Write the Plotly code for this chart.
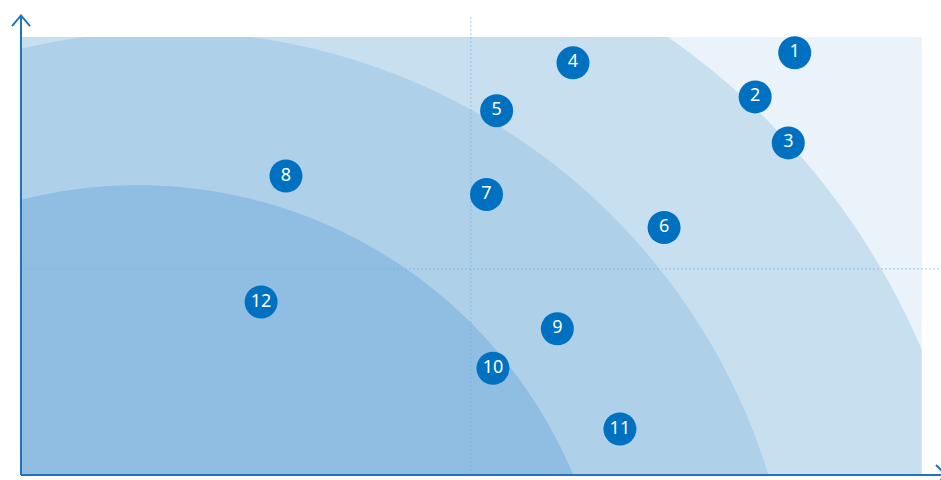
import numpy as np
import plotly.graph_objects as go

# ---- data ----
labels = ["1", "2", "3", "4", "5", "6", "7", "8", "9", "10", "11", "12"]
x_vals = [84.1, 79.8, 83.4, 60.0, 51.7, 69.9, 50.6, 28.8, 58.3, 51.3, 65.1, 26.1]
y_vals = [45.9, 41.1, 36.1, 44.8, 39.6, 26.9, 30.5, 32.5, 15.9, 11.6, 5.0, 18.8]

# band geometry: (center x, center y, radius) in data units, outer -> inner
band_centers_x = [25.1, 15.9, 12.7]
band_centers_y = [-17.3, -20.2, -19.8]
band_radii = [79.1, 68.4, 51.3]
band_colors = ["#c8dff0", "#aed0e8", "#8fbee2"]

X_MAX, Y_MAX = 97.9, 47.6          # background panel extent
MID_X, MID_Y = 48.9, 22.4          # dotted divider lines

fig = go.Figure()

shapes = []
# background panel
shapes.append(dict(type="rect", xref="x", yref="y", x0=0.1, x1=X_MAX, y0=0, y1=Y_MAX,
                   fillcolor="#ebf3fa", line=dict(width=0), layer="below"))


def band_path(cx, cy, r):
    x_end = min(X_MAX, cx + np.sqrt(r * r - cy * cy))
    xs = list(np.linspace(0.1, x_end, 600))
    if r * r - (Y_MAX - cy) ** 2 > 0:
        d = np.sqrt(r * r - (Y_MAX - cy) ** 2)
        for xx in (cx - d, cx + d):
            if 0.1 < xx < x_end:
                xs.append(xx)
    xs = sorted(xs)
    pts = []
    for xx in xs:
        v = r * r - (xx - cx) ** 2
        up = cy + np.sqrt(max(v, 0.0))
        up = max(0.0, min(Y_MAX, up))
        pts.append((xx, up))
    path = "M 0.1,0 " + " ".join(f"L {a:.4f},{b:.4f}" for a, b in pts)
    path += f" L {x_end:.4f},0 Z"
    return path


for cx, cy, r, col in zip(band_centers_x, band_centers_y, band_radii, band_colors):
    shapes.append(dict(type="path", xref="x", yref="y", path=band_path(cx, cy, r),
                       fillcolor=col, line=dict(width=0), layer="below"))

# dotted divider lines (as traces so they sit above bands, below markers)
dot_col = "rgba(120,180,225,0.7)"
fig.add_trace(go.Scatter(x=[MID_X, MID_X], y=[0, 50], mode="lines",
                         line=dict(color=dot_col, width=1, dash="2px,2px"),
                         hoverinfo="skip", showlegend=False, cliponaxis=False))
fig.add_trace(go.Scatter(x=[0, 100], y=[MID_Y, MID_Y], mode="lines",
                         line=dict(color=dot_col, width=1, dash="2px,2px"),
                         hoverinfo="skip", showlegend=False, cliponaxis=False))

# numbered markers
fig.add_trace(go.Scatter(
    x=x_vals, y=y_vals, mode="markers+text", text=labels,
    textposition="middle center",
    textfont=dict(family="Noto Sans, Open Sans, sans-serif", size=18, color="white"),
    marker=dict(size=33, color="#0070c0", line=dict(width=0)),
    hoverinfo="skip", showlegend=False, cliponaxis=False))

# axis lines with arrow heads (paper coords: x=(px-21)/920, y=(475-py)/460)
ax_col = "#1f73c1"
shapes.append(dict(type="line", xref="paper", yref="paper", x0=0, y0=0, x1=0, y1=1.0,
                   line=dict(color=ax_col, width=2), layer="above"))
shapes.append(dict(type="line", xref="paper", yref="paper", x0=0, y0=0, x1=1.02, y1=0,
                   line=dict(color=ax_col, width=2), layer="above"))
shapes.append(dict(type="path", xref="paper", yref="paper",
                   path="M -0.0098,0.976 L 0,0.999 L 0.0098,0.976",
                   line=dict(color=ax_col, width=2), layer="above"))
shapes.append(dict(type="path", xref="paper", yref="paper",
                   path="M 0.9946,0.0217 L 1.0054,0 L 0.9946,-0.0217",
                   line=dict(color=ax_col, width=2), layer="above"))

fig.update_layout(
    width=941, height=480,
    margin=dict(l=21, r=0, t=15, b=5),
    paper_bgcolor="white", plot_bgcolor="white",
    shapes=shapes,
    xaxis=dict(range=[0, 100], showgrid=False, zeroline=False, showticklabels=False,
               showline=False, ticks="", fixedrange=True),
    yaxis=dict(range=[0, 50], showgrid=False, zeroline=False, showticklabels=False,
               showline=False, ticks="", fixedrange=True),
    showlegend=False,
)

# remove the default page margin so the figure fills the window exactly
fig.write_html(
    "out.html",
    config={"displayModeBar": False},
    post_script="document.body.style.margin='0';"
                "document.body.style.overflow='hidden';"
                "document.documentElement.style.overflow='hidden';",
)
